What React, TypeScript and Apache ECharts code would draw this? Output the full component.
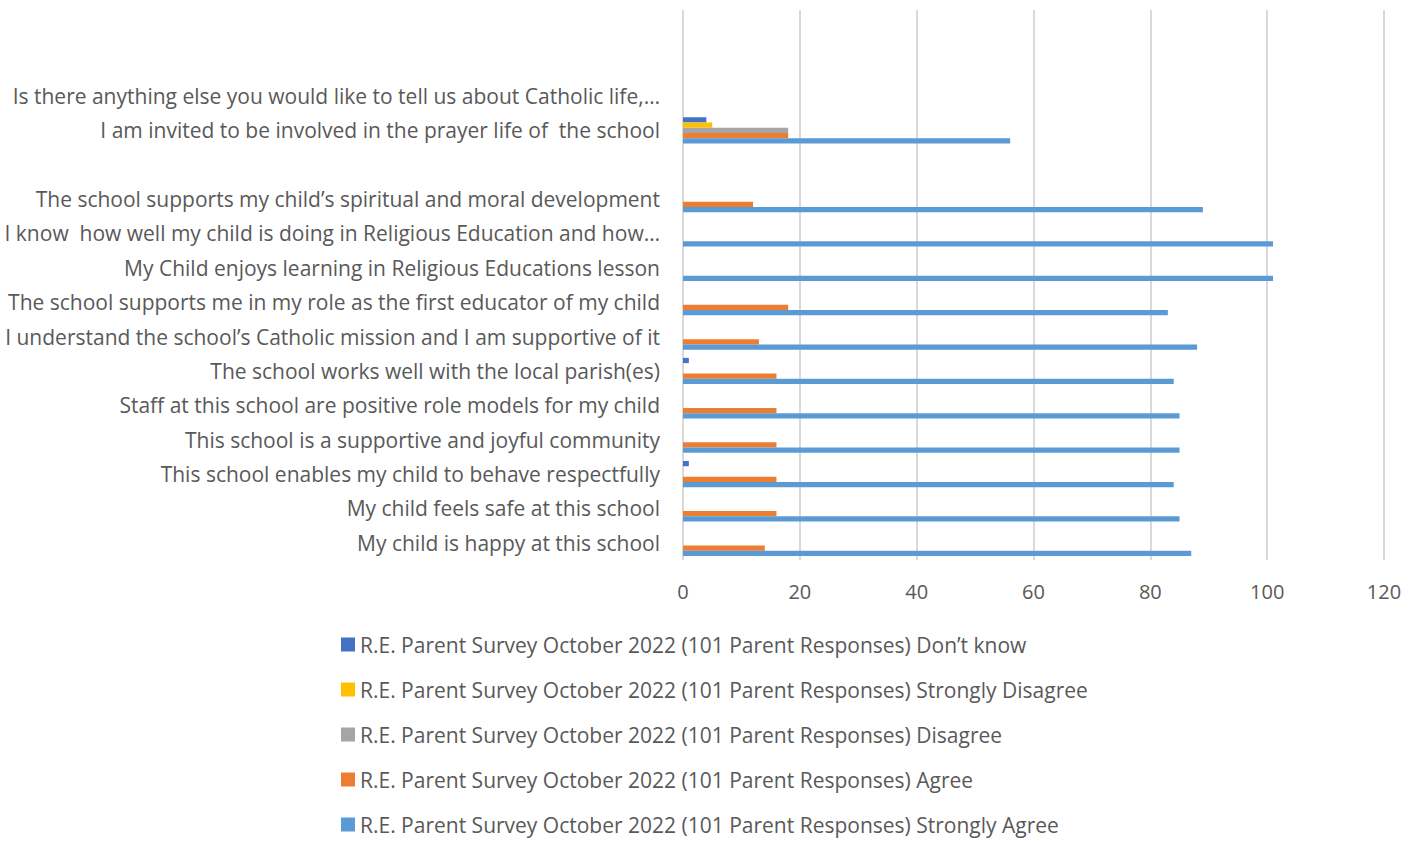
import React, { useEffect, useRef } from "react";
import * as echarts from "echarts";

// Categories listed bottom-to-top (ECharts category axis starts at the bottom)
const categories: string[] = [
  "My child is happy at this school",
  "My child feels safe at this school",
  "This school enables my child to behave respectfully",
  "This school is a supportive and joyful community",
  "Staff at this school are positive role models for my child",
  "The school works well with the local parish(es)",
  "I understand the school’s Catholic mission and I am supportive of it",
  "The school supports me in my role as the first educator of my child",
  "My Child enjoys learning in Religious Educations lesson",
  "I know  how well my child is doing in Religious Education and how…",
  "The school supports my child’s spiritual and moral development",
  "",
  "I am invited to be involved in the prayer life of  the school",
  "Is there anything else you would like to tell us about Catholic life,…",
  " ",
  "  ",
];

const dontKnow = [null, null, 1, null, null, 1, null, null, null, null, null, null, 4, null, null, null];
const stronglyDisagree = [null, null, null, null, null, null, null, null, null, null, null, null, 5, null, null, null];
const disagree = [null, null, null, null, null, null, null, null, null, null, null, null, 18, null, null, null];
const agree = [14, 16, 16, 16, 16, 16, 13, 18, null, null, 12, null, 18, null, null, null];
const stronglyAgree = [87, 85, 84, 85, 85, 84, 88, 83, 101, 101, 89, null, 56, null, null, null];

const seriesNames = [
  "R.E. Parent Survey October 2022 (101 Parent Responses) Don’t know",
  "R.E. Parent Survey October 2022 (101 Parent Responses) Strongly Disagree",
  "R.E. Parent Survey October 2022 (101 Parent Responses) Disagree",
  "R.E. Parent Survey October 2022 (101 Parent Responses) Agree",
  "R.E. Parent Survey October 2022 (101 Parent Responses) Strongly Agree",
];
const seriesColors = ["#4472C4", "#FFC000", "#A5A5A5", "#ED7D31", "#5B9BD5"];
const seriesData = [dontKnow, stronglyDisagree, disagree, agree, stronglyAgree];

const xTicks = { min: 0, max: 120, interval: 20 };

const FONT = "'Open Sans', Lato, sans-serif";

export default function App() {
  const ref = useRef<HTMLDivElement>(null);

  useEffect(() => {
    if (!ref.current) return;
    const chart = echarts.init(ref.current, undefined, { renderer: "svg" });
    chart.setOption({
      animation: false,
      backgroundColor: "#ffffff",
      textStyle: { fontFamily: FONT },
      grid: { left: 683, right: 35, top: 10, bottom: 281 },
      legend: {
        orient: "vertical",
        left: 341,
        top: 634,
        height: 230,
        padding: 0,
        icon: "rect",
        itemWidth: 14,
        itemHeight: 14,
        itemGap: 24,
        textStyle: { color: "#595959", fontSize: 21, fontFamily: FONT },
        data: seriesNames,
      },
      xAxis: {
        type: "value",
        min: xTicks.min,
        max: xTicks.max,
        interval: xTicks.interval,
        axisLine: { show: false },
        axisTick: { show: false },
        axisLabel: { color: "#595959", fontSize: 20, margin: 21, fontFamily: FONT },
        splitLine: { show: true, lineStyle: { color: "#D9D9D9", width: 2 } },
      },
      yAxis: {
        type: "category",
        data: categories,
        axisLine: { show: false },
        axisTick: { show: false },
        axisLabel: { color: "#595959", fontSize: 21, margin: 23, fontFamily: FONT, interval: 0 },
        splitLine: { show: false },
      },
      series: seriesData.map((d, i) => ({
        name: seriesNames[i],
        type: "bar",
        data: d,
        itemStyle: { color: seriesColors[i] },
        barGap: "0%",
        barCategoryGap: "24%",
      })),
    });
    return () => chart.dispose();
  }, []);

  return <div ref={ref} style={{ width: 1419, height: 841, position: "absolute", left: 0, top: 0 }} />;
}
